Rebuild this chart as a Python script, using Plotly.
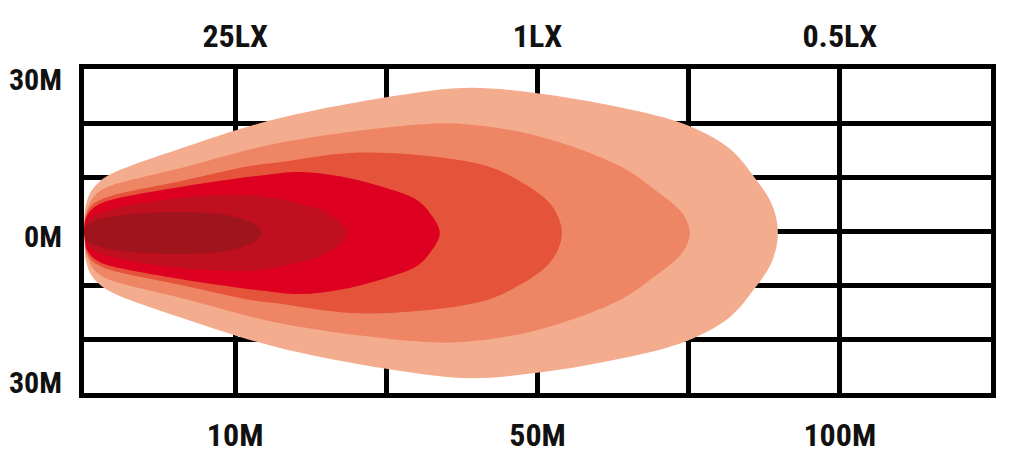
import plotly.graph_objects as go

# ---- axis labels ----
distance_ticks = [0, 1, 2, 3, 4, 5, 6]
distance_labels = ["", "10M", "", "50M", "", "100M", ""]
lux_ticks = [1, 3, 5]
lux_labels = ["25LX", "1LX", "0.5LX"]
spread_ticks = [2.8, -0.11, -2.8]
spread_labels = ["30M", "0M", "30M"]

# ---- beam isolux contours (x: grid units along throw, h: half spread in grid units) ----
beam_center = -0.037

outer_x = [0, 0.007, 0.040, 0.106, 0.192, 0.635, 1.296, 2.176, 2.553, 2.996, 3.545, 3.988, 4.272, 4.438, 4.537, 4.577, 4.590]
outer_h = [0, 0.44, 0.74, 0.96, 1.11, 1.56, 2.13, 2.59, 2.69, 2.59, 2.33, 2.00, 1.56, 1.02, 0.61, 0.30, 0]

l2_x = [0, 0.013, 0.053, 0.106, 0.192, 0.635, 1.296, 2.176, 2.507, 2.996, 3.545, 3.763, 3.942, 3.988, 4.008]
l2_h = [0, 0.37, 0.63, 0.78, 0.89, 1.20, 1.67, 2.00, 2.02, 1.80, 1.24, 0.83, 0.42, 0.22, 0]

l3_x = [0, 0.013, 0.053, 0.106, 0.192, 0.635, 1.098, 1.296, 1.759, 2.222, 2.665, 2.884, 3.062, 3.135, 3.161]
l3_h = [0, 0.33, 0.52, 0.61, 0.70, 0.96, 1.24, 1.31, 1.48, 1.44, 1.24, 0.96, 0.61, 0.31, 0]

l4_x = [0, 0.013, 0.053, 0.106, 0.192, 0.635, 1.184, 1.429, 1.693, 1.978, 2.202, 2.288, 2.354]
l4_h = [0, 0.28, 0.44, 0.54, 0.62, 0.85, 1.07, 1.13, 1.05, 0.85, 0.61, 0.37, 0]

l5_x = [0, 0.013, 0.053, 0.192, 0.635, 1.077, 1.296, 1.429, 1.541, 1.647, 1.713, 1.739]
l5_h = [0, 0.19, 0.30, 0.45, 0.65, 0.70, 0.63, 0.54, 0.46, 0.30, 0.15, 0]

l6_x = [0, 0.013, 0.053, 0.192, 0.635, 0.966, 1.118, 1.157, 1.177]
l6_h = [0, 0.13, 0.20, 0.31, 0.39, 0.32, 0.18, 0.09, 0]

layers = [
    (outer_x, outer_h, "#F4AC8F"),
    (l2_x, l2_h, "#EE8665"),
    (l3_x, l3_h, "#E5533A"),
    (l4_x, l4_h, "#DE0020"),
    (l5_x, l5_h, "#C00F1F"),
    (l6_x, l6_h, "#A0141E"),
]

fig = go.Figure()
for xs, hs, col in layers:
    # upper edge left->right (through the tip once), lower edge right->left
    # (skipping the shared tip and start points so the spline stays smooth)
    px = list(xs) + list(reversed(xs[1:-1]))
    py = [beam_center + h for h in hs] + [beam_center - h for h in reversed(hs[1:-1])]
    fig.add_trace(go.Scatter(
        x=px, y=py, mode="lines", fill="toself", fillcolor=col,
        line=dict(color=col, width=0, shape="spline", smoothing=1.0),
        hoverinfo="skip", showlegend=False,
    ))

# helper trace so the top/left label axes are drawn
fig.add_trace(go.Scatter(x=[None], y=[None], xaxis="x2", yaxis="y2",
                         mode="markers", showlegend=False, hoverinfo="skip"))

FONT = ("Noto Sans ExtraCondensed, Noto Sans Condensed, Roboto Condensed, "
        "Open Sans Condensed, Liberation Sans Narrow, DejaVu Sans Condensed, sans-serif")
lab_font = dict(family=FONT, size=32, color="#111111", weight="bold")
side_font = dict(family=FONT, size=30, color="#111111", weight="bold")

# the page body adds an 8px offset, so the figure is 8px smaller on each side
fig.update_layout(
    width=1014, height=448, autosize=False,
    margin=dict(l=76, r=31, t=61, b=63, pad=0),
    paper_bgcolor="white", plot_bgcolor="white",
    showlegend=False,
    xaxis=dict(range=[0, 6], tickvals=distance_ticks, ticktext=distance_labels,
               showgrid=True, gridcolor="black", gridwidth=4.5,
               showline=True, mirror=True, linecolor="black", linewidth=4.5,
               zeroline=False, ticks="outside", ticklen=10, tickcolor="rgba(0,0,0,0)",
               tickfont=lab_font, layer="below traces", fixedrange=True, automargin=False),
    yaxis=dict(range=[-3, 3], dtick=1, tick0=0, showticklabels=False,
               showgrid=True, gridcolor="black", gridwidth=4.5,
               showline=True, mirror=True, linecolor="black", linewidth=4.5,
               zeroline=False, ticks="", layer="below traces", fixedrange=True, automargin=False),
    xaxis2=dict(range=[0, 6], overlaying="x", side="top", anchor="y",
                tickvals=lux_ticks, ticktext=lux_labels, showgrid=False,
                showline=False, zeroline=False, ticks="outside", ticklen=8,
                tickcolor="rgba(0,0,0,0)", tickfont=lab_font, fixedrange=True, automargin=False),
    yaxis2=dict(range=[-3, 3], overlaying="y", side="left", anchor="x",
                tickvals=spread_ticks, ticktext=spread_labels, showgrid=False,
                showline=False, zeroline=False, ticks="outside", ticklen=15,
                tickcolor="rgba(0,0,0,0)", tickfont=side_font, fixedrange=True, automargin=False),
)

fig.write_html("out.html", config={"displayModeBar": False})
